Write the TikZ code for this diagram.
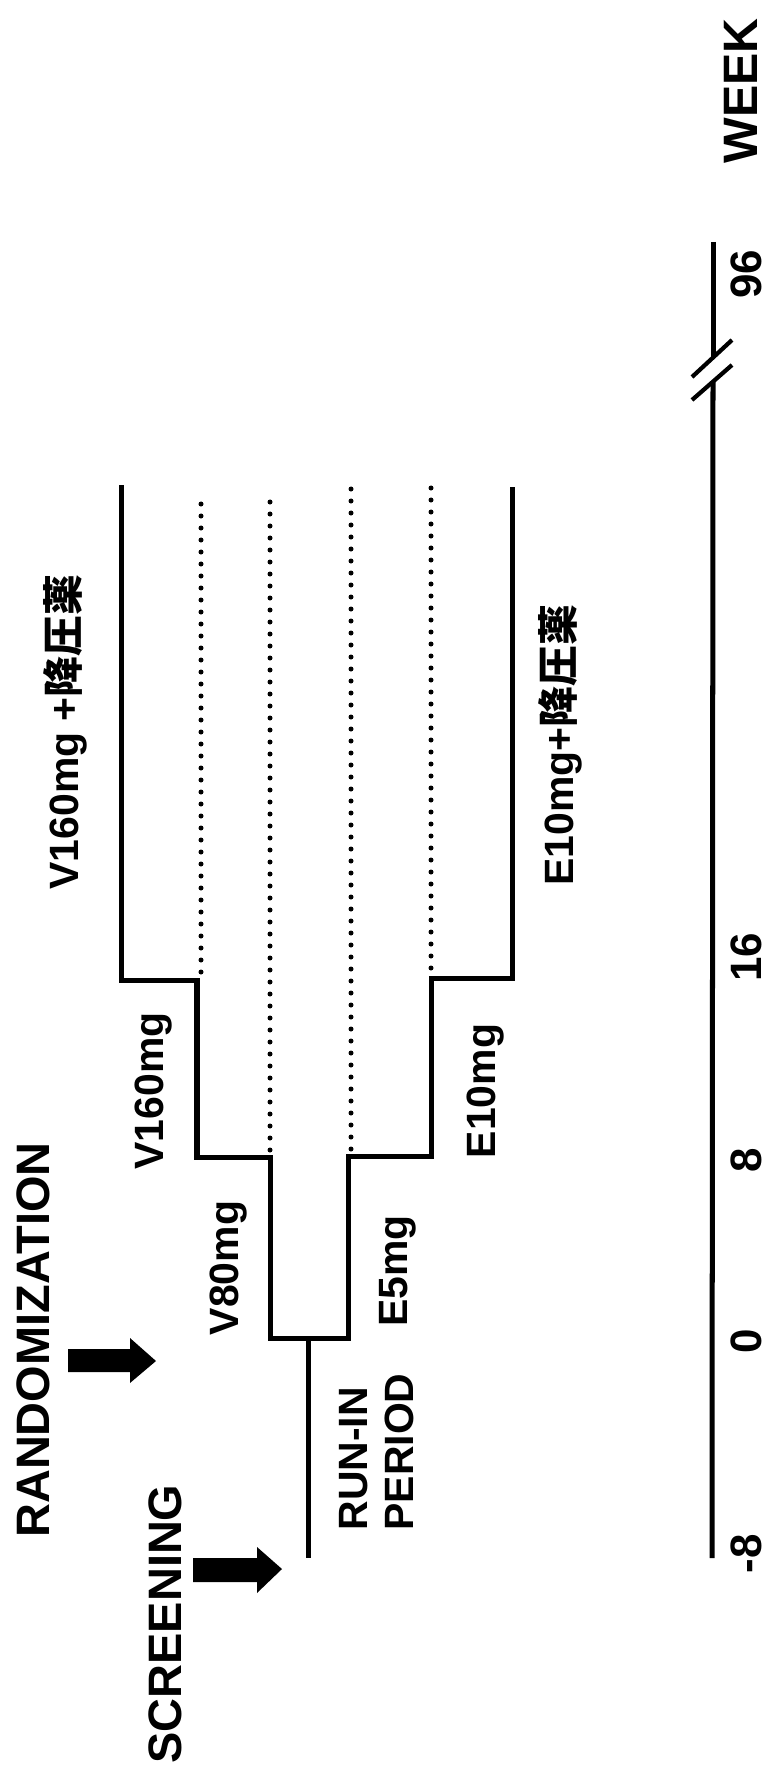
\documentclass[tikz,border=0pt]{standalone}
\usepackage{fontspec}
\setmainfont{Liberation Sans}
\newfontfamily\jpfont{Noto Sans CJK JP}
\usepackage{tikz}

\tikzset{
  stepline/.style={line width=2.85pt, line join=miter},
  dotline/.style={line width=2.85pt, line cap=round, dash pattern=on 0pt off 6.83pt},
  armlbl/.style={rotate=90, font=\bfseries\fontsize{23.3}{26.2}\selectfont},
  eventlbl/.style={rotate=90, font=\bfseries\fontsize{26.7}{30}\selectfont},
  weeklbl/.style={rotate=90, inner sep=1pt, font=\bfseries\fontsize{25}{28}\selectfont},
}

\begin{document}
\begin{tikzpicture}[x=0.02cm,y=-0.02cm]
\path[use as bounding box] (0,0) rectangle (768,1770);
% week axis with break
\draw[stepline] (713,242) -- (713,358);
\draw[stepline] (713,382) -- (712,1558);
\draw[line width=2.4pt] (692,377) -- (732,340);
\draw[line width=2.4pt] (692,400) -- (732,365);
\node[weeklbl] (week) at (741,91) {\fontsize{27.5}{30}\selectfont WEEK};
\node[weeklbl] (t96) at (746,274) {96};
\node[weeklbl] (t16) at (746,957) {16};
\node[weeklbl] (t8) at (746,1160) {8};
\node[weeklbl] (t0) at (746,1341) {0};
\node[weeklbl] (tm8) at (746,1554) {-8};
% titration steps
\draw[stepline] (121.5,485) -- (121.5,980) -- (197,980) -- (197,1157) -- (270,1157)
  -- (270,1338) -- (348,1338) -- (348,1156) -- (431,1156) -- (431,978) -- (512,978) -- (512,487);
\draw[stepline] (308,1338) -- (308,1558);
\draw[dotline] (201,972) -- (201,497);
\draw[dotline] (270,1150) -- (270,492);
\draw[dotline] (351,1149) -- (351,487);
\draw[dotline] (431,968) -- (431,487);
% arm labels
\node[armlbl] (vadd) at (65,732) {V160mg +{\jpfont 降圧薬}};
\node[armlbl] (eadd) at (560,745) {E10mg+{\jpfont 降圧薬}};
\node[armlbl] (vhigh) at (154,1091) {V160mg};
\node[armlbl] (ehigh) at (486,1091) {E10mg};
\node[armlbl] (vlow) at (229,1268) {V80mg};
\node[armlbl] (elow) at (398,1271) {E5mg};
\node[armlbl,align=left] (runin) at (377,1452) {RUN-IN\\PERIOD};
% events
\node[eventlbl] (rand) at (33,1340) {RANDOMIZATION};
\node[eventlbl] (scr) at (165,1624) {SCREENING};
\fill (68,1349) -- (130,1349) -- (130,1338) -- (156,1361) -- (130,1383) -- (130,1372) -- (68,1372) -- cycle;
\fill (193,1558) -- (257,1558) -- (257,1547) -- (282,1569) -- (257,1593) -- (257,1582) -- (193,1582) -- cycle;
\end{tikzpicture}
\end{document}
